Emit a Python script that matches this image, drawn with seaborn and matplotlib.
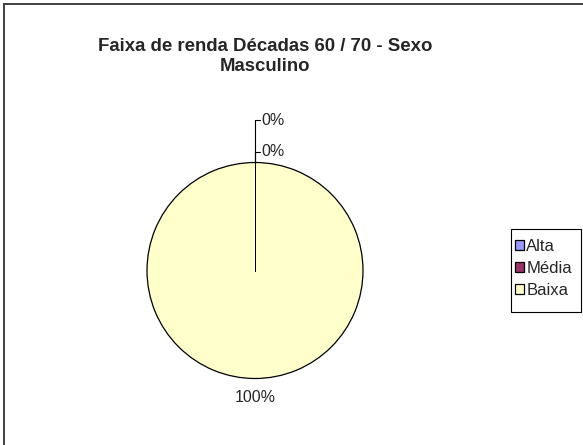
import numpy as np
import matplotlib
matplotlib.use("Agg")
import matplotlib.pyplot as plt
import seaborn as sns
from matplotlib.lines import Line2D
from matplotlib.patches import Rectangle

# dados
categorias = ["Alta", "Média", "Baixa"]
valores = [0, 0, 100]
cores = ["#9999FF", "#993366", "#FFFFCC"]
titulo = "Faixa de renda Décadas 60 / 70 - Sexo\nMasculino"

sns.set_style("white")
plt.rcParams["font.family"] = ["Liberation Sans", "DejaVu Sans"]

W, H = 583, 445
fig = plt.figure(figsize=(W / 100, H / 100), dpi=100)
ax = fig.add_axes([0, 0, 1, 1])

cx, cy, r = 255, 174.5, 108
wedges, _ = ax.pie(valores, colors=cores, startangle=90, counterclock=False,
                   radius=r, center=(cx, cy),
                   wedgeprops=dict(edgecolor="black", linewidth=0.9))
# pie mexe nos limites, então fixa depois
ax.set_xlim(0, W)
ax.set_ylim(0, H)
ax.set_aspect("equal")
ax.axis("off")

# moldura do gráfico (esquerda e topo)
fig.add_artist(Line2D([3.5 / W, 3.5 / W], [0, 1 - 3.5 / H], color="#333333", lw=1.3))
fig.add_artist(Line2D([3.5 / W, 1], [1 - 3.5 / H, 1 - 3.5 / H], color="#333333", lw=1.3))

# bordas radiais das fatias (fatias de 0% não desenham nada sozinhas)
for w in wedges:
    for t in (w.theta1, w.theta2):
        a = np.deg2rad(t)
        ax.plot([cx, cx + r * np.cos(a)], [cy, cy + r * np.sin(a)],
                color="black", lw=0.7, zorder=3)

total = sum(valores)
dist_zero = [1.39, 1.10]
k = 0
for w, v in zip(wedges, valores):
    ang = np.deg2rad((w.theta1 + w.theta2) / 2)
    txt = f"{v / total:.0%}"
    if v == 0:
        d = dist_zero[k]
        k += 1
        x0, y0 = cx + r * np.cos(ang), cy + r * np.sin(ang)
        x1, y1 = cx + d * r * np.cos(ang), cy + d * r * np.sin(ang)
        ax.plot([x0, x1], [y0, y1], color="black", lw=0.8)
        ax.plot([x1, x1 + 5], [y1, y1], color="black", lw=0.8)
        ax.text(x1 + 6, y1, txt, ha="left", va="center", fontsize=11.5)
    else:
        d = 1.18
        ax.text(cx + d * r * np.cos(ang), cy + d * r * np.sin(ang), txt,
                ha="center", va="center", fontsize=11.5)

fig.text(265 / W, 1 - 56.5 / H, titulo, ha="center", va="center",
         fontsize=13.4, fontweight="bold", linespacing=1.3)

# caixa da legenda desenhada à parte
fig.add_artist(Rectangle((510.5 / W, 1 - 312 / H), 70.5 / W, 83 / H,
                         transform=fig.transFigure, fill=False,
                         edgecolor="black", lw=0.8))
leg = fig.legend(wedges, categorias, loc="upper left",
                 bbox_to_anchor=(514.5 / W, 1 - 239 / H), fontsize=12,
                 frameon=False, handlelength=0.55, handleheight=0.55,
                 handletextpad=0.15, borderpad=0, labelspacing=0.42,
                 borderaxespad=0)

fig.savefig("out.png", dpi=100)
